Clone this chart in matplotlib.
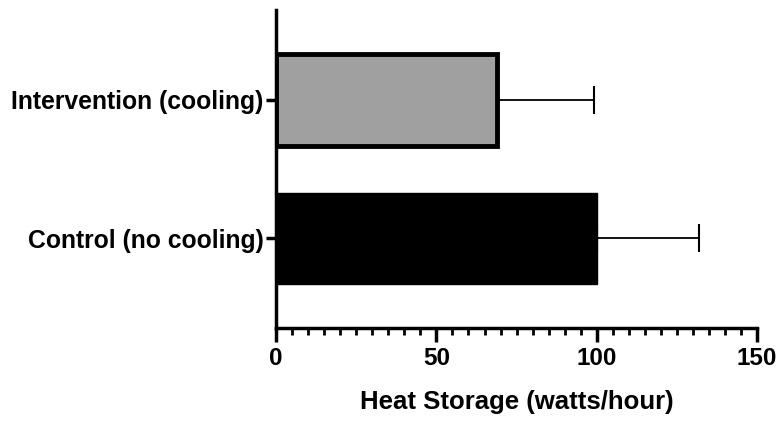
import matplotlib.pyplot as plt
from matplotlib.ticker import MultipleLocator

# Data
groups = ['Control (no cooling)', 'Intervention (cooling)']
means = [100, 69]
sd = [32, 30]
fills = ['black', '#a0a0a0']
edge_w = [1, 3.5]

plt.rcParams['font.family'] = ['Liberation Sans', 'DejaVu Sans']
plt.rcParams['font.weight'] = 'bold'

fig = plt.figure(figsize=(7.83, 4.22), dpi=100)
ax = fig.add_axes([0.3525, 0.2227, 0.6145, 0.7533])

pos = list(range(len(groups)))
ax.barh(pos, means, height=0.66, color=fills, edgecolor='black', linewidth=edge_w, zorder=2)
ax.errorbar(means, pos, xerr=[[0] * len(sd), sd], fmt='none', ecolor='black',
            elinewidth=1.3, capsize=10, capthick=1.5, zorder=1)

ax.set_xlim(0, 150)
ax.set_ylim(-0.65, 1.65)
ax.set_yticks(pos)
ax.set_yticklabels(groups, fontsize=17.8, fontweight='bold')
ax.xaxis.set_major_locator(MultipleLocator(50))
ax.xaxis.set_minor_locator(MultipleLocator(5))
ax.tick_params(axis='x', which='major', length=10, width=2.5, labelsize=17.5, pad=4)
ax.tick_params(axis='x', which='minor', length=5, width=2)
ax.tick_params(axis='y', length=7, width=2.5, pad=2)
for lab in ax.get_xticklabels():
    lab.set_fontweight('bold')

ax.set_xlabel('Heat Storage (watts/hour)', fontsize=18.5, fontweight='bold', labelpad=14)

for side in ['top', 'right']:
    ax.spines[side].set_visible(False)
ax.spines['left'].set_linewidth(2.5)
ax.spines['bottom'].set_linewidth(2.5)

fig.savefig('out.png', dpi=100)
